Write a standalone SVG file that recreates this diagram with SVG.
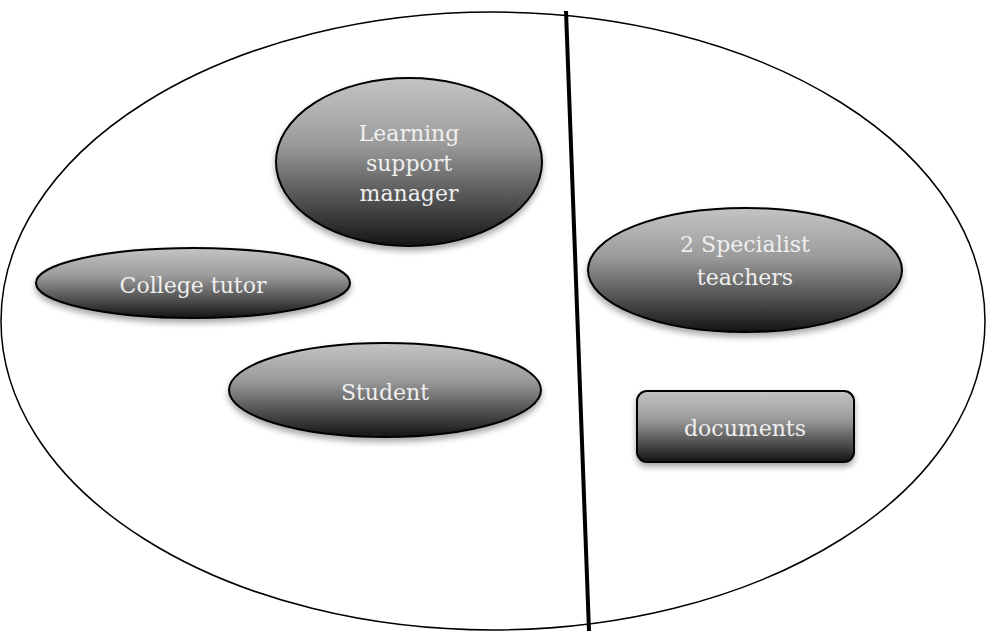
<svg xmlns="http://www.w3.org/2000/svg" width="988" height="631" viewBox="0 0 988 631">
<defs>
<linearGradient id="g" x1="0" y1="0" x2="0" y2="1">
<stop offset="0" stop-color="#c4c4c4"/>
<stop offset="0.4" stop-color="#9a9a9a"/>
<stop offset="1" stop-color="#141414"/>
</linearGradient>
<filter id="sh" x="-10%" y="-10%" width="120%" height="130%">
<feGaussianBlur in="SourceAlpha" stdDeviation="3"/>
<feOffset dx="0" dy="4"/>
<feComponentTransfer><feFuncA type="linear" slope="0.35"/></feComponentTransfer>
<feMerge><feMergeNode/><feMergeNode in="SourceGraphic"/></feMerge>
</filter>
</defs>
<style>
.n{fill:url(#g);stroke:#000;stroke-width:2;filter:url(#sh)}
.t{font-family:"DejaVu Serif","Liberation Serif",serif;font-size:22px;fill:#efefef;text-anchor:middle}
</style>
<rect width="988" height="631" fill="#fff"/>
<g id="boundary">
<ellipse cx="493" cy="321" rx="492" ry="309" fill="none" stroke="#000" stroke-width="1.5"/>
</g>
<g id="connectors">
<line x1="566" y1="11" x2="589" y2="631" stroke="#000" stroke-width="4"/>
</g>
<g id="learning-support-manager">
<ellipse class="n" cx="409" cy="162" rx="133" ry="84"/>
<text class="t" x="409" y="141">Learning</text>
<text class="t" x="409" y="171">support</text>
<text class="t" x="409" y="201">manager</text>
</g>
<g id="college-tutor">
<ellipse class="n" cx="193" cy="283" rx="157" ry="35"/>
<text class="t" x="193" y="293">College tutor</text>
</g>
<g id="student">
<ellipse class="n" cx="385" cy="390" rx="156" ry="47"/>
<text class="t" x="385" y="400">Student</text>
</g>
<g id="specialist-teachers">
<ellipse class="n" cx="745" cy="270" rx="157" ry="62"/>
<text class="t" x="745" y="252">2 Specialist</text>
<text class="t" x="745" y="285">teachers</text>
</g>
<g id="documents">
<rect class="n" x="637" y="391" width="217" height="71" rx="10"/>
<text class="t" x="745" y="436">documents</text>
</g>
</svg>
